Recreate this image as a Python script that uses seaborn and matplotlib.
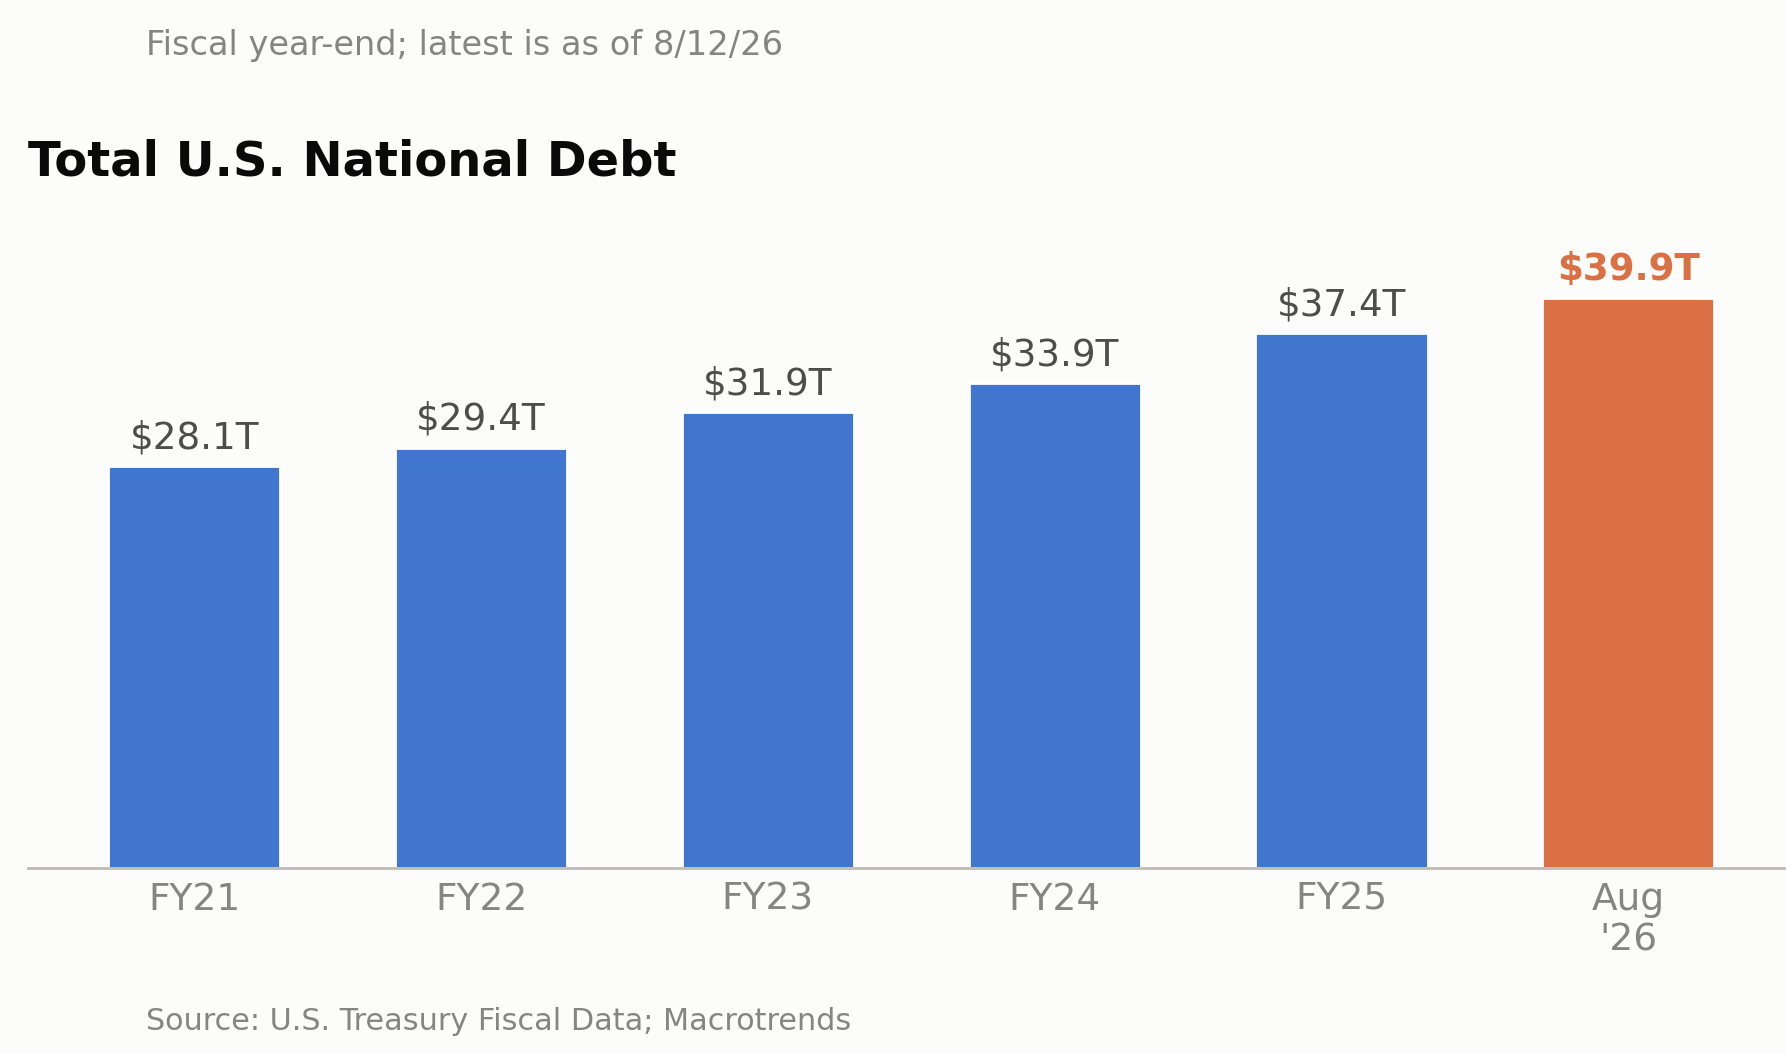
import matplotlib
matplotlib.use("Agg")
import matplotlib.pyplot as plt
import seaborn as sns
import pandas as pd

# dados
periods = ["FY21", "FY22", "FY23", "FY24", "FY25", "Aug\n'26"]
debt_trillions = [28.1, 29.4, 31.9, 33.9, 37.4, 39.9]
bar_kind = ["fy", "fy", "fy", "fy", "fy", "latest"]
value_labels = ["$28.1T", "$29.4T", "$31.9T", "$33.9T", "$37.4T", "$39.9T"]

title = "Total U.S. National Debt"
subtitle = "Fiscal year-end; latest is as of 8/12/26"
source = "Source: U.S. Treasury Fiscal Data; Macrotrends"

BLUE = "#4176CF"
ORANGE = "#DB7044"
BG = "#FCFCFA"

df = pd.DataFrame({"period": periods, "debt": debt_trillions, "kind": bar_kind})

sns.set_theme(style="white")
plt.rcParams["font.family"] = ["DejaVu Sans"]

fig = plt.figure(figsize=(8.93, 5.27), dpi=200, facecolor=BG)
ax = fig.add_axes([28 / 1786, 1 - 868 / 1054, 1 - 28 / 1786, 629 / 1054])
ax.set_facecolor(BG)

sns.barplot(data=df, x="period", y="debt", hue="kind", order=periods,
            palette={"fy": BLUE, "latest": ORANGE}, width=0.6,
            dodge=False, legend=False, saturation=1, ax=ax)

ax.set_ylim(0, 44)
ax.set_xlim(-0.58, 5.55)

# rótulos das barras
for i, (val, lab) in enumerate(zip(debt_trillions, value_labels)):
    latest = bar_kind[i] == "latest"
    ax.annotate(lab, (i, val), xytext=(0, 3.5), textcoords="offset points",
                ha="center", va="bottom", fontsize=13.4,
                color=ORANGE if latest else "#4D4D4D",
                fontweight="bold" if latest else "normal")

for s in ["top", "right", "left"]:
    ax.spines[s].set_visible(False)
ax.spines["bottom"].set_color("#BDBDB5")
ax.spines["bottom"].set_linewidth(1.0)
ax.set_yticks([])
ax.set_xlabel("")
ax.set_ylabel("")
ax.tick_params(axis="x", length=0, pad=5, labelsize=13.5, labelcolor="#858585")
for t in ax.get_xticklabels():
    t.set_linespacing(1.15)

fig.text(146 / 1786, 1 - 46 / 1054, subtitle, fontsize=12.1, color="#858585",
         ha="left", va="center")
fig.text(28 / 1786, 1 - 162 / 1054, title, fontsize=17.3, fontweight="bold",
         color="#0A0A0A", ha="left", va="center")
fig.text(146 / 1786, 1 - 1021 / 1054, source, fontsize=10.9, color="#858585",
         ha="left", va="center")

plt.savefig("out.png", dpi=200, facecolor=BG)
